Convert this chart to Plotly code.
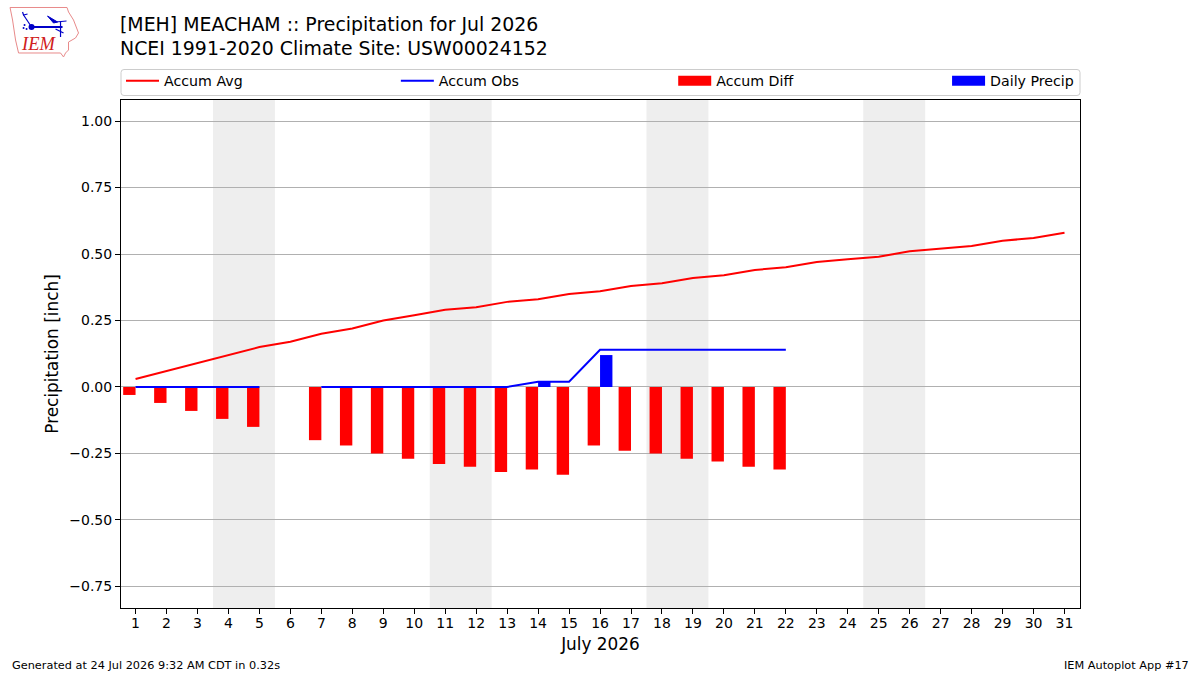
import plotly.graph_objects as go

# Daily climatology and observations for July 2026 at MEH
days = list(range(1, 32))
accum_avg = [0.03, 0.06, 0.09, 0.12, 0.15, 0.17, 0.20, 0.22, 0.25, 0.27, 0.29, 0.30, 0.32, 0.33, 0.35, 0.36,
             0.38, 0.39, 0.41, 0.42, 0.44, 0.45, 0.47, 0.48, 0.49, 0.51, 0.52, 0.53, 0.55, 0.56, 0.58]
obs_days = list(range(1, 23))
accum_obs = [0, 0, 0, 0, 0, None, 0, 0, 0, 0, 0, 0, 0, 0.02, 0.02, 0.14, 0.14, 0.14, 0.14, 0.14, 0.14, 0.14]
accum_diff = [-0.03, -0.06, -0.09, -0.12, -0.15, None, -0.20, -0.22, -0.25, -0.27, -0.29, -0.30, -0.32, -0.31,
              -0.33, -0.22, -0.24, -0.25, -0.27, -0.28, -0.30, -0.31]
daily_precip = [0, 0, 0, 0, 0, None, 0, 0, 0, 0, 0, 0, 0, 0.02, 0, 0.12, 0, 0, 0, 0, 0, 0]
weekends = [(3.5, 5.5), (10.5, 12.5), (17.5, 19.5), (24.5, 26.5)]
y_ticks = [-0.75, -0.50, -0.25, 0.00, 0.25, 0.50, 0.75, 1.00]
y_labels = ["\u22120.75", "\u22120.50", "\u22120.25", "0.00", "0.25", "0.50", "0.75", "1.00"]

FONT = "DejaVu Sans"
W, H = 1200, 675
L, R, T, B = 120.5, 1080, 100, 608


# Canvas pixels to plot-area fractions, for furniture placed around the axes
def px(x):
    return (x - L) / (R - L)


def py(y):
    return (B - y) / (B - T)


def pixel_path(points, close=False):
    d = "M" + " L".join(f"{px(x):.5f},{py(y):.5f}" for x, y in points)
    return d + (" Z" if close else "")


fig = go.Figure()

# Bars sit side by side, each hanging off one edge of its day
fig.add_bar(x=obs_days, y=accum_diff, width=0.4, offset=-0.4, marker=dict(color="#ff0000", line_width=0),
            name="Accum Diff", legend="legend3", legendgroup="diff", showlegend=False)
fig.add_bar(x=obs_days, y=daily_precip, width=0.4, offset=0, marker=dict(color="#0000ff", line_width=0),
            name="Daily Precip", legend="legend4", legendgroup="precip", showlegend=False)
fig.add_scatter(x=days, y=accum_avg, mode="lines", line=dict(color="#ff0000", width=2), name="Accum Avg",
                legend="legend")
fig.add_scatter(x=obs_days, y=accum_obs, mode="lines", line=dict(color="#0000ff", width=2), name="Accum Obs",
                connectgaps=False, legend="legend2")
# Wide legend swatches for the two bar series
fig.add_scatter(x=[None], y=[None], mode="lines", line=dict(color="#ff0000", width=10), name="Accum Diff",
                legend="legend3", legendgroup="diff")
fig.add_scatter(x=[None], y=[None], mode="lines", line=dict(color="#0000ff", width=10), name="Daily Precip",
                legend="legend4", legendgroup="precip")

shapes = [dict(type="rect", xref="x", yref="paper", x0=a, x1=b, y0=0, y1=1, fillcolor="#eeeeee",
               line_width=0, layer="below") for a, b in weekends]

# Rounded frame behind the legend row
lx0, lx1, ly0, ly1 = 120.5, 1080, 69.5, 95.5
r = 3
shapes.append(dict(
    type="path", xref="paper", yref="paper", layer="below", line=dict(color="#cccccc", width=1), fillcolor="white",
    path=(f"M{px(lx0 + r)},{py(ly0)} L{px(lx1 - r)},{py(ly0)} Q{px(lx1)},{py(ly0)} {px(lx1)},{py(ly0 + r)} "
          f"L{px(lx1)},{py(ly1 - r)} Q{px(lx1)},{py(ly1)} {px(lx1 - r)},{py(ly1)} "
          f"L{px(lx0 + r)},{py(ly1)} Q{px(lx0)},{py(ly1)} {px(lx0)},{py(ly1 - r)} "
          f"L{px(lx0)},{py(ly0 + r)} Q{px(lx0)},{py(ly0)} {px(lx0 + r)},{py(ly0)} Z")))

# IEM logo: state outline with a small blue station glyph
state_outline = [(9.5, 7.5), (66.5, 7.5), (68, 12), (73, 20), (78, 33), (75, 38), (68, 42), (68, 50), (65, 53),
                 (63, 57), (60, 53), (18, 53), (15, 40), (12, 20)]
shapes.append(dict(type="path", xref="paper", yref="paper", layer="above", path=pixel_path(state_outline, True),
                   line=dict(color="#e88a8a", width=1), fillcolor="rgba(0,0,0,0)"))
for seg, w in [([(31, 27), (62, 27)], 2), ([(31, 27), (23, 15)], 1.2), ([(22, 12), (23, 15), (27, 14)], 1.2),
               ([(55, 22), (66, 21)], 1), ([(60, 22), (60, 37)], 1.2), ([(55, 29), (63, 33)], 1.2)]:
    shapes.append(dict(type="path", xref="paper", yref="paper", layer="above", path=pixel_path(seg),
                       line=dict(color="#0000c8", width=w)))
shapes.append(dict(type="path", xref="paper", yref="paper", layer="above",
                   path=pixel_path([(47, 16), (57, 22), (53, 23)], True), fillcolor="#0000c8",
                   line=dict(color="#0000c8", width=1)))
shapes.append(dict(type="circle", xref="paper", yref="paper", layer="above", x0=px(28), x1=px(34), y0=py(30), y1=py(24),
                   fillcolor="#0000c8", line_width=0))
for dx, dy in [(23, 28), (26, 29), (24, 25)]:
    shapes.append(dict(type="circle", xref="paper", yref="paper", layer="above", x0=px(dx - 1), x1=px(dx + 1),
                       y0=py(dy + 1), y1=py(dy - 1), fillcolor="#0000c8", line_width=0))

annotations = [
    dict(text="<i>IEM</i>", xref="paper", yref="paper", x=px(37.5), y=py(44.5), xanchor="center", yanchor="middle",
         showarrow=False, font=dict(family="Liberation Serif", size=18.5, color="#d02020")),
    dict(text="Generated at 24 Jul 2026 9:32 AM CDT in 0.32s", xref="paper", yref="paper", x=px(9), y=py(665),
         xanchor="left", yanchor="middle", showarrow=False, font=dict(family=FONT, size=11.3, color="black")),
    dict(text="IEM Autoplot App #17", xref="paper", yref="paper", x=px(1191), y=py(665),
         xanchor="right", yanchor="middle", showarrow=False, font=dict(family=FONT, size=11.3, color="black")),
]


def legend_at(line_start):
    # Each entry gets its own legend so the row can spread across the full axes width
    return dict(orientation="h", x=px(line_start - 5.5), y=py(81), xanchor="left", yanchor="middle",
                itemwidth=33, bgcolor="rgba(0,0,0,0)", borderwidth=0,
                font=dict(family=FONT, size=14.2), itemclick=False, itemdoubleclick=False)


fig.update_layout(
    width=W, height=H, margin=dict(l=L, r=W - R, t=T, b=H - B, autoexpand=False),
    paper_bgcolor="white", plot_bgcolor="white", barmode="overlay", showlegend=True,
    font=dict(family=FONT, size=14, color="black"),
    title=dict(text="[MEH] MEACHAM :: Precipitation for Jul 2026<br>NCEI 1991-2020 Climate Site: USW00024152",
               x=120 / W, xref="container", xanchor="left", y=1 - 30.5 / H, yref="container", yanchor="middle",
               font=dict(family=FONT, size=18.9, color="black")),
    shapes=shapes, annotations=annotations,
    legend=legend_at(126), legend2=legend_at(401), legend3=legend_at(678.5), legend4=legend_at(952.5),
    xaxis=dict(range=[0.53, 31.5], tickmode="array", tickvals=days, ticktext=[str(d) for d in days],
               ticks="outside", ticklen=5, tickwidth=1, tickcolor="black", showline=True, linecolor="black",
               linewidth=1, mirror=True, showgrid=False, zeroline=False, ticklabelstandoff=-3,
               title=dict(text="July 2026", font=dict(size=16.9), standoff=8), tickfont=dict(size=14)),
    yaxis=dict(range=[-0.831, 1.079], tickmode="array", tickvals=y_ticks, ticktext=y_labels,
               ticks="outside", ticklen=5, tickwidth=1, tickcolor="black", showline=True, linecolor="black",
               linewidth=1, mirror=True, showgrid=True, gridcolor="#b0b0b0", gridwidth=1, zeroline=False,
               title=dict(text="Precipitation [inch]", font=dict(size=16.9), standoff=6), tickfont=dict(size=14)),
)

fig.write_html("out.html", config=dict(displayModeBar=False))
